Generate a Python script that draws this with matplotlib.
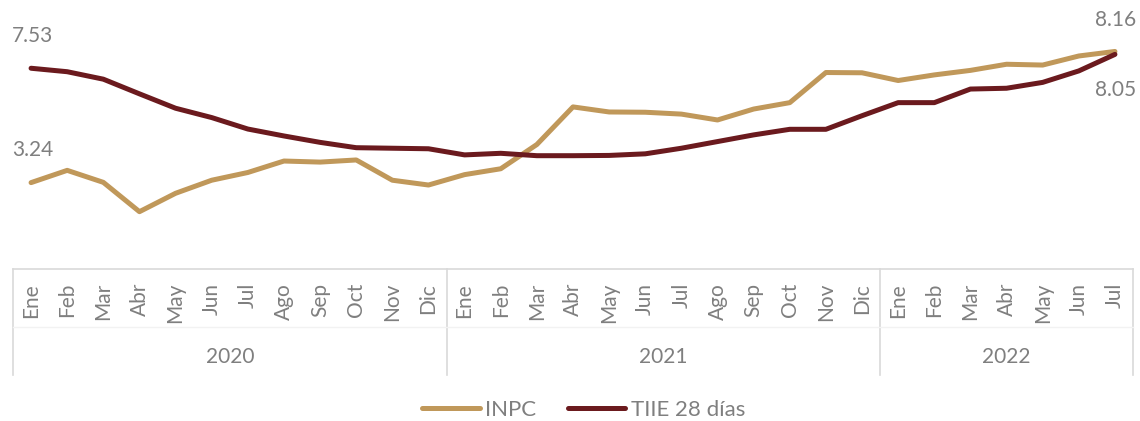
import matplotlib
matplotlib.use("Agg")
import matplotlib.pyplot as plt
import matplotlib.transforms as mtransforms

MONTHS = ["Ene", "Feb", "Mar", "Abr", "May", "Jun", "Jul", "Ago", "Sep", "Oct", "Nov", "Dic"]
YEARS = ["2020", "2021", "2022"]
MONTHS_PER_YEAR = [12, 12, 7]

inpc = [3.24, 3.70, 3.25, 2.15, 2.84, 3.33, 3.62, 4.05, 4.01, 4.09, 3.33, 3.15,
        3.54, 3.76, 4.67, 6.08, 5.89, 5.88, 5.81, 5.59, 6.00, 6.24, 7.37, 7.36,
        7.07, 7.28, 7.45, 7.68, 7.65, 7.99, 8.16]
tiie = [7.53, 7.40, 7.12, 6.57, 6.03, 5.68, 5.25, 4.99, 4.75, 4.55, 4.53, 4.51,
        4.28, 4.34, 4.25, 4.25, 4.26, 4.32, 4.53, 4.78, 5.03, 5.24, 5.24, 5.75,
        6.24, 6.24, 6.75, 6.78, 7.00, 7.43, 8.05]

labels = []
for n in MONTHS_PER_YEAR:
    labels += MONTHS[:n]
x = list(range(len(labels)))

C_INPC = "#C0985A"
C_TIIE = "#6B1A1E"
GRAY = "#7f7f7f"
LINE = "#d9d9d9"

plt.rcParams["font.family"] = ["Lato", "DejaVu Sans"]

fig = plt.figure(figsize=(11.4, 4.21), dpi=100)
ax = fig.add_axes([13 / 1140, 1 - 269 / 421, 1120 / 1140, 269 / 421])

ax.plot(x, inpc, color=C_INPC, lw=3.6, label="INPC", solid_capstyle="round")
ax.plot(x, tiie, color=C_TIIE, lw=3.6, label="TIIE 28 días", solid_capstyle="round")

ax.set_xlim(-0.5, len(x) - 0.5)
ax.set_ylim(0, 10.09)

# value labels at both ends
lab_kw = dict(textcoords="offset pixels", color=GRAY, fontsize=15)
ax.annotate(f"{tiie[0]:.2f}", (x[0], tiie[0]), xytext=(-19, 32), ha="left", va="center", **lab_kw)
ax.annotate(f"{inpc[0]:.2f}", (x[0], inpc[0]), xytext=(-19, 33), ha="left", va="center", **lab_kw)
ax.annotate(f"{inpc[-1]:.2f}", (x[-1], inpc[-1]), xytext=(21, 31), ha="right", va="center", **lab_kw)
ax.annotate(f"{tiie[-1]:.2f}", (x[-1], tiie[-1]), xytext=(21, -36), ha="right", va="center", **lab_kw)

ax.set_yticks([])
ax.set_xticks(x)
ax.set_xticklabels(labels, rotation=90, color=GRAY, fontsize=15)
ax.tick_params(axis="x", length=0, pad=10)
for s in ["top", "right", "left"]:
    ax.spines[s].set_visible(False)
ax.spines["bottom"].set_color(LINE)
ax.spines["bottom"].set_linewidth(1.2)

# year groups
trans = mtransforms.blended_transform_factory(ax.transData, ax.transAxes)
start = 0
bounds = [-0.5]
for yr, n in zip(YEARS, MONTHS_PER_YEAR):
    mid = start + (n - 1) / 2
    ax.text(mid, -0.327, yr, transform=trans, ha="center", va="center",
            color=GRAY, fontsize=15)
    start += n
    bounds.append(start - 0.5)
for b in bounds:
    ax.plot([b, b], [0, -0.394], transform=trans, color=LINE, lw=1.2, clip_on=False)
ax.plot([-0.5, len(x) - 0.5], [-0.216, -0.216], transform=trans, color="#f2f2f2", lw=1, clip_on=False)

leg = fig.legend(loc="center", bbox_to_anchor=(0.512, 0.026), ncol=2, frameon=False,
                 fontsize=16, handlelength=2.6, handletextpad=0.25, columnspacing=1.4)
for t in leg.get_texts():
    t.set_color(GRAY)

fig.savefig("out.png", dpi=100)
